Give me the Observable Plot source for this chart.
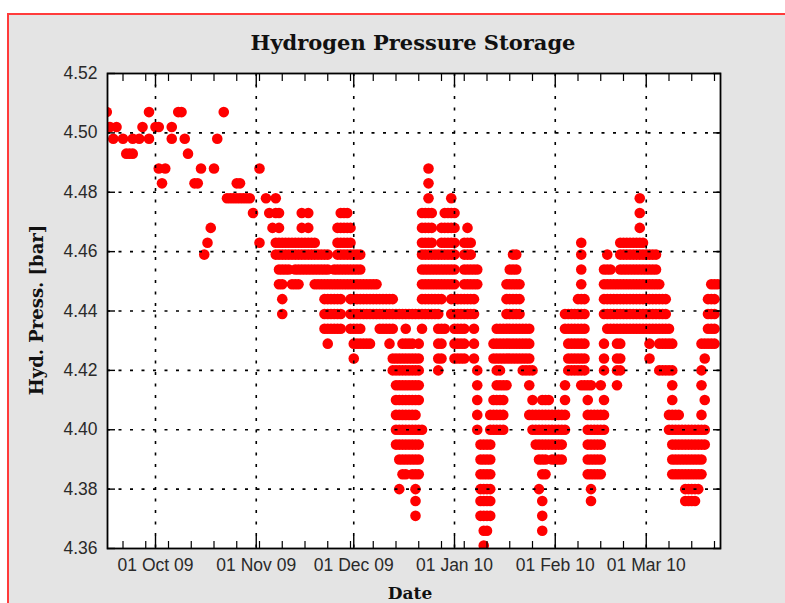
<!DOCTYPE html>
<html>
<head>
<meta charset="utf-8">
<script src="https://cdn.jsdelivr.net/npm/d3@7"></script>
<script src="https://cdn.jsdelivr.net/npm/@observablehq/plot@0.6"></script>
<style>
  html, body { margin: 0; padding: 0; background: #ffffff; width: 785px; height: 603px; overflow: hidden; }
  #panel { position: absolute; left: 7px; top: 13px; width: 820px; height: 620px; background: #e4e4e4;
           border-left: 2px solid #ff3b3b; border-top: 2px solid #ff3b3b; }
  #chart { position: absolute; left: 0; top: 0; }
  .title { position: absolute; left: 0; width: 826px; top: 30px; text-align: center;
           font-family: "DejaVu Serif", serif; font-weight: bold; font-size: 21px; color: #111; white-space: nowrap; }
  .ylab { position: absolute; left: 36px; top: 310px; transform: translate(-50%, -50%) rotate(-90deg);
          font-family: "DejaVu Serif", serif; font-weight: bold; font-size: 18px; color: #111; white-space: nowrap; }
  .xlab { position: absolute; left: 0; width: 820px; top: 583px; text-align: center;
          font-family: "DejaVu Serif", serif; font-weight: bold; font-size: 17px; color: #111; }
</style>
</head>
<body>
<div id="panel"></div>
<div id="chart"></div>
<div class="title">Hydrogen Pressure Storage</div>
<div class="ylab">Hyd. Press. [bar]</div>
<div class="xlab">Date</div>
<script>
// ---- data ----
// quantized pressure readings [bar]
const pressureLevels = [4.507, 4.502, 4.498, 4.493, 4.488, 4.483, 4.478, 4.473, 4.468, 4.463,
  4.459, 4.454, 4.449, 4.444, 4.439, 4.434, 4.429, 4.424, 4.420, 4.415,
  4.410, 4.405, 4.400, 4.395, 4.390, 4.385, 4.380, 4.376, 4.371, 4.366, 4.361];

// days (counted from 01 Oct 2009) on which each pressure level was recorded
const daysAtLevel = [
  [-15, -2, 7, 8, 21],
  [-14, -12, -4, 0, 1, 5],
  [-13, -10, -7, -5, -2, 5, 9, 19],
  [-9, -8, -7, 10],
  [1, 3, 14, 18, 32, 84],
  [2, 12, 13, 25, 26, 84],
  [22, 23, 24, 25, 26, 27, 28, 29, 34, 37, 84, 91, 149],
  [30, 35, 37, 38, 45, 47, 57, 58, 59, 82, 83, 84, 85, 89, 90, 91, 92, 149],
  [17, 36, 38, 45, 47, 56, 57, 58, 59, 60, 82, 83, 84, 85, 88, 89, 90, 91, 92, 96, 149],
  [16, 32, 37, 38, 39, 40, 41, 42, 43, 44, 45, 46, 47, 48, 49, 56, 57, 58, 59, 60, 82, 83, 84, 85,
   88, 89, 90, 91, 92, 95, 96, 97, 131, 143, 144, 145, 146, 147, 148, 149, 150],
  [15, 37, 38, 39, 40, 41, 42, 43, 44, 45, 46, 47, 48, 49, 50, 51, 52, 53, 56, 57, 58, 59, 60, 61, 62, 63,
   82, 83, 84, 85, 86, 87, 88, 89, 90, 91, 92, 95, 96, 97, 110, 111, 131, 139,
   143, 144, 145, 146, 147, 148, 149, 150, 151, 152, 153, 154],
  [38, 39, 40, 41, 43, 44, 45, 46, 47, 48, 49, 50, 51, 52, 53, 55, 56, 57, 58, 59, 60, 61, 62, 63,
   82, 83, 84, 85, 86, 87, 88, 89, 90, 91, 92, 95, 96, 97, 98, 99, 109, 110, 111, 131, 138, 139, 140,
   143, 144, 145, 146, 147, 148, 149, 150, 151, 152, 153, 154],
  [38, 39, 42, 43, 44, 49, 50, 51, 52, 53, 54, 55, 56, 57, 58, 59, 60, 61, 62, 63, 64, 65, 66, 67, 68,
   82, 83, 84, 85, 86, 87, 88, 89, 90, 91, 92, 95, 96, 97, 98, 99, 108, 109, 110, 111, 112, 131,
   138, 139, 140, 141, 142, 143, 144, 145, 146, 147, 148, 149, 150, 151, 152, 153, 154, 155, 171, 172, 173],
  [39, 52, 53, 54, 55, 56, 57, 60, 61, 62, 63, 64, 65, 66, 67, 68, 69, 70, 71, 72, 73,
   82, 83, 84, 85, 86, 87, 88, 91, 92, 93, 94, 95, 96, 97, 98, 108, 109, 110, 111, 112, 130, 131, 132,
   138, 139, 140, 141, 142, 143, 144, 145, 146, 147, 148, 149, 150, 151, 152, 153, 154, 155, 156, 157, 170, 171, 172],
  [39, 52, 53, 54, 55, 56, 57, 60, 61, 62, 63, 64, 65, 66, 67, 68, 69, 70, 71, 72, 73, 74, 75, 76, 77, 78, 79, 80,
   81, 82, 83, 84, 85, 86, 87, 91, 92, 93, 94, 95, 96, 97, 98, 108, 109, 110, 111, 112,
   126, 127, 128, 129, 130, 131, 132, 138, 139, 140, 141, 142, 143, 144, 145, 146, 147, 148, 149, 150,
   151, 152, 153, 154, 155, 156, 157, 170, 171, 172],
  [52, 53, 54, 55, 56, 57, 60, 61, 62, 63, 69, 70, 71, 72, 73, 77, 82, 87, 88, 89, 92, 93, 94, 95, 98,
   105, 106, 107, 108, 109, 110, 111, 112, 113, 114, 115, 126, 127, 128, 129, 130, 131, 132,
   139, 140, 141, 142, 143, 144, 145, 146, 147, 148, 149, 150, 151, 152, 153, 154, 155, 156, 157, 158, 170, 171, 172],
  [53, 61, 62, 63, 64, 65, 66, 72, 76, 77, 78, 79, 81, 87, 88, 92, 93, 94, 95, 98,
   104, 105, 106, 107, 108, 109, 110, 111, 112, 113, 114, 115, 127, 128, 129, 130, 131, 132,
   138, 142, 143, 152, 155, 156, 157, 158, 159, 168, 169, 170, 171, 172],
  [61, 73, 74, 75, 76, 77, 78, 79, 80, 81, 87, 88, 92, 93, 94, 95, 98,
   104, 105, 106, 107, 108, 109, 110, 111, 112, 113, 114, 115, 127, 128, 129, 130, 131, 132, 138, 142, 143, 152, 169],
  [73, 74, 75, 76, 77, 78, 79, 80, 81, 87, 99, 105, 106, 113, 114, 115, 116, 127, 128, 129, 130, 131, 132,
   138, 142, 143, 155, 156, 157, 158, 159, 168],
  [74, 75, 76, 77, 78, 79, 80, 81, 99, 105, 106, 107, 108, 115, 126, 131, 132, 133, 134, 137, 142, 159, 168],
  [74, 75, 76, 77, 78, 79, 80, 81, 99, 104, 105, 106, 107, 116, 119, 120, 121, 126, 133, 138, 159, 169],
  [74, 75, 76, 77, 78, 79, 80, 99, 103, 104, 105, 106, 107, 115, 116, 117, 118, 119, 120, 121, 122, 123, 124, 125, 126,
   133, 134, 135, 136, 137, 138, 158, 159, 160, 161, 168],
  [74, 75, 76, 77, 78, 79, 80, 81, 82, 99, 103, 104, 105, 106, 107, 116, 117, 118, 119, 120, 121, 122, 123, 124, 125, 126,
   133, 134, 135, 136, 137, 138, 158, 159, 160, 161, 162, 163, 164, 165, 166, 167, 168, 169],
  [74, 75, 76, 77, 78, 79, 80, 81, 100, 101, 102, 103, 117, 118, 119, 120, 121, 122, 123, 124, 125,
   133, 134, 135, 136, 137, 159, 160, 161, 162, 163, 164, 165, 166, 167, 168, 169],
  [75, 76, 77, 78, 79, 80, 81, 100, 101, 102, 103, 118, 119, 120, 122, 123, 124, 125,
   133, 134, 135, 136, 137, 159, 160, 161, 162, 163, 164, 165, 166, 167, 168],
  [76, 77, 79, 80, 81, 100, 101, 102, 103, 119, 120, 133, 134, 135, 136, 137, 159, 160, 161, 162, 163, 164, 165, 166, 167, 168],
  [75, 80, 100, 101, 102, 103, 118, 134, 163, 164, 165, 166, 167],
  [80, 100, 101, 102, 103, 119, 134, 163, 164, 165, 166],
  [80, 100, 101, 102, 103, 119],
  [101, 102, 119],
  [101]
];

const monthTickDates = ["2009-10-01", "2009-11-01", "2009-12-01", "2010-01-01", "2010-02-01", "2010-03-01"];
const yTickValues = [4.36, 4.38, 4.40, 4.42, 4.44, 4.46, 4.48, 4.50, 4.52];
const xDomain = ["2009-09-16T05:30Z", "2010-03-23T20:20Z"];
const yDomain = [4.36, 4.52];

// ---- build table ----
const day0 = Date.UTC(2009, 9, 1);
const readings = pressureLevels.flatMap((p, i) =>
  daysAtLevel[i].map(d => ({date: new Date(day0 + d * 864e5), pressure: p})));
const monthTicks = monthTickDates.map(s => new Date(s + "T00:00Z"));
const xd = xDomain.map(s => new Date(s));
const weekTicks = d3.utcMonday.range(xd[0], xd[1]).filter(d => !monthTicks.some(m => Math.abs(m - d) < 864e5));
const fmt = d3.utcFormat("%d %b %y");

const gridStyle = {stroke: "#000", strokeOpacity: 1, strokeWidth: 1.6, strokeDasharray: "3,8.5"};

const chart = Plot.plot({
  width: 785,
  height: 603,
  marginLeft: 107,
  marginRight: 65,
  marginTop: 73,
  marginBottom: 55,
  style: {background: "transparent", fontFamily: "'Liberation Sans', Arial, sans-serif", fontSize: "17.5px", color: "#2a2a2a", overflow: "visible"},
  x: {type: "utc", domain: xd},
  y: {domain: yDomain},
  marks: [
    Plot.frame({fill: "white", stroke: "none"}),
    Plot.dot(readings, {x: "date", y: "pressure", r: 5.3, fill: "#ff0000", stroke: "none", clip: true}),
    Plot.gridX(monthTicks, gridStyle),
    Plot.gridY(yTickValues.slice(1, -1), gridStyle),
    Plot.frame({stroke: "#000", strokeWidth: 1.8}),
    Plot.axisX(monthTicks, {anchor: "bottom", tickSize: -12, fill: "none", stroke: "#000", strokeWidth: 1.4, label: null}),
    Plot.axisX(monthTicks, {anchor: "top", tickSize: -12, fill: "none", stroke: "#000", strokeWidth: 1.4, label: null}),
    Plot.axisX(weekTicks, {anchor: "bottom", tickSize: -7, fill: "none", stroke: "#000", strokeWidth: 1.2, label: null}),
    Plot.axisX(weekTicks, {anchor: "top", tickSize: -7, fill: "none", stroke: "#000", strokeWidth: 1.2, label: null}),
    Plot.axisX(monthTicks, {anchor: "bottom", tickSize: 0, tickPadding: 10, tickFormat: fmt, label: null, fill: "#2a2a2a"}),
    Plot.axisY(yTickValues, {anchor: "left", tickSize: -8, fill: "none", stroke: "#000", strokeWidth: 1.4, label: null}),
    Plot.axisY(yTickValues, {anchor: "right", tickSize: -8, fill: "none", stroke: "#000", strokeWidth: 1.4, label: null}),
    Plot.axisY(yTickValues, {anchor: "left", tickSize: 0, tickPadding: 10, tickFormat: d => d.toFixed(2), label: null, fill: "#2a2a2a"})
  ]
});
document.getElementById("chart").appendChild(chart);
</script>
</body>
</html>
